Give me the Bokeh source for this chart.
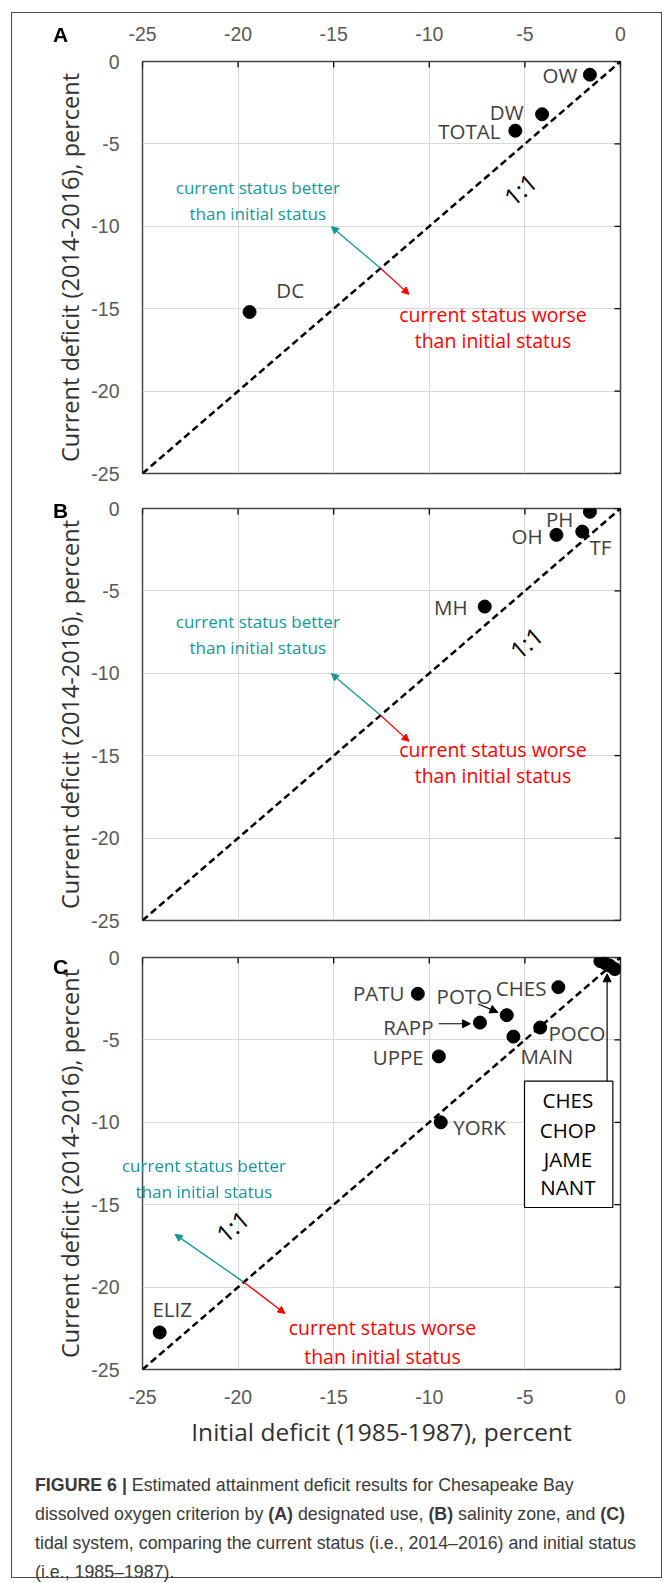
from bokeh.plotting import figure
from bokeh.models import (Range1d, FixedTicker, Label, Arrow, NormalHead, Div)
from bokeh.layouts import column
from bokeh.embed import file_html
from bokeh.resources import INLINE

# ---------------- data ----------------
tick_values = [-25, -20, -15, -10, -5, 0]
tick_labels = ["-25", "-20", "-15", "-10", "-5", "0"]
one_to_one = [-25, 0]

# Panel A: designated use
a_names = ["OW", "DW", "TOTAL", "DC"]
a_initial = [-1.6, -4.1, -5.5, -19.4]
a_current = [-0.8, -3.2, -4.2, -15.2]

# Panel B: salinity zone
b_names = ["PH", "TF", "OH", "MH"]
b_initial = [-1.6, -2.0, -3.35, -7.1]
b_current = [-0.2, -1.4, -1.6, -5.95]

# Panel C: tidal system
c_names = ["PATU", "POTO", "CHES", "RAPP", "POCO", "MAIN", "UPPE", "YORK", "ELIZ",
           "CHES", "CHOP", "JAME", "NANT"]
c_initial = [-10.6, -5.95, -3.25, -7.35, -4.2, -5.6, -9.5, -9.4, -24.1,
             -1.05, -0.8, -0.55, -0.3]
c_current = [-2.2, -3.5, -1.8, -3.95, -4.25, -4.8, -6.0, -10.0, -22.75,
             -0.22, -0.35, -0.5, -0.7]

# label anchors (text, x, y, align) for point names
a_lab = [("OW", -2.25, -0.8, "right"), ("DW", -5.07, -3.08, "right"),
         ("TOTAL", -6.28, -4.19, "right"), ("DC", -18.0, -13.85, "left")]
b_lab = [("PH", -2.46, -0.61, "right"), ("TF", -1.62, -2.31, "left"),
         ("OH", -4.08, -1.64, "right"), ("MH", -8.0, -6.0, "right")]
c_lab = [("PATU", -11.3, -2.17, "right"), ("POTO", -9.62, -2.31, "left"),
         ("CHES", -3.87, -1.86, "right"), ("RAPP", -9.78, -4.23, "right"),
         ("POCO", -3.77, -4.59, "left"), ("MAIN", -5.23, -5.95, "left"),
         ("UPPE", -10.29, -6.05, "right"), ("YORK", -8.75, -10.3, "left"),
         ("ELIZ", -24.48, -21.3, "left")]

# small-system box in panel C
box_names = ["CHES", "CHOP", "JAME", "NANT"]
box_left, box_right, box_top, box_bottom = [-5.02], [-0.4], [-7.5], [-15.17]
box_text_x = -2.75
box_text_y = [-8.66, -10.48, -12.2, -13.94]

better_lines = ["current status better", "than initial status"]
worse_lines = ["current status worse", "than initial status"]

TEAL = "#12989a"
RED = "#ff0000"
TICK_FONT = "Liberation Sans"
TXT_FONT = "Open Sans"

FRAME_W, FRAME_H = 478, 412
TICK_PX = 6
span = tick_values[-1] - tick_values[0]
tick_dx = TICK_PX * span / FRAME_W
tick_dy = TICK_PX * span / FRAME_H

panel_cfg = {
    "A": dict(names=a_names, x=a_initial, y=a_current, labels=a_lab,
              better=(-18.97, [-7.63, -9.22]), worse=(-6.67, [-15.35, -16.94]),
              ratio=(-5.25, -7.75), base=(-12.55, -12.55), tip_b=(-15.12, -10.02),
              tip_w=(-11.06, -14.13), top=61, bottom=17),
    "B": dict(names=b_names, x=b_initial, y=b_current, labels=b_lab,
              better=(-18.97, [-6.85, -8.44]), worse=(-6.67, [-14.6, -16.2]),
              ratio=(-4.94, -8.14), base=(-12.55, -12.55), tip_b=(-15.12, -10.02),
              tip_w=(-11.06, -14.13), top=18, bottom=19),
    "C": dict(names=c_names, x=c_initial, y=c_current, labels=c_lab,
              better=None, worse=(-12.45, [-22.45, -24.2]),
              ratio=(-20.3, -16.3), base=(-19.7, -19.7), tip_b=(-23.3, -16.8),
              tip_w=(-17.55, -21.6), top=18, bottom=86),
}


def make_panel(key):
    cfg = panel_cfg[key]
    p = figure(x_range=Range1d(-25, 0), y_range=Range1d(-25, 0),
               frame_width=FRAME_W, frame_height=FRAME_H,
               min_border_left=142, min_border_right=44,
               min_border_top=cfg["top"], min_border_bottom=cfg["bottom"],
               x_axis_location=("above" if key == "A" else ("below" if key == "C" else None)),
               y_axis_location="left",
               toolbar_location=None, output_backend="svg",
               background_fill_color="white", border_fill_color="white")
    p.outline_line_color = "#454545"
    p.outline_line_width = 1.5

    ticker = FixedTicker(ticks=tick_values)
    overrides = dict(zip(tick_values, tick_labels))

    if key in ("A", "C"):
        xa = p.xaxis[0]
        xa.ticker = ticker
        xa.major_label_overrides = overrides
        xa.axis_line_color = None
        xa.major_tick_line_color = None
        xa.minor_tick_line_color = None
        xa.major_label_text_font = TICK_FONT
        xa.major_label_text_font_size = "19.5px"
        xa.major_label_text_color = "#595959"
        xa.major_label_standoff = 15 if key == "A" else 14
        if key == "C":
            xa.axis_label = "Initial deficit (1985-1987), percent"
            xa.axis_label_text_font = TXT_FONT
            xa.axis_label_text_font_size = "24.5px"
            xa.axis_label_text_font_style = "normal"
            xa.axis_label_text_color = "#303030"
            xa.axis_label_standoff = 8

    ya = p.yaxis[0]
    ya.ticker = ticker
    ya.major_label_overrides = overrides
    ya.axis_line_color = None
    ya.major_tick_line_color = None
    ya.minor_tick_line_color = None
    ya.major_label_text_font = TICK_FONT
    ya.major_label_text_font_size = "19.5px"
    ya.major_label_text_color = "#595959"
    ya.major_label_standoff = 17
    ya.axis_label = "Current deficit (2014-2016), percent"
    ya.axis_label_text_font = TXT_FONT
    ya.axis_label_text_font_size = "23.5px"
    ya.axis_label_text_font_style = "normal"
    ya.axis_label_text_color = "#303030"
    ya.axis_label_standoff = 2

    p.xgrid.ticker = ticker
    p.ygrid.ticker = ticker
    p.xgrid.grid_line_color = "#d9d9d9"
    p.ygrid.grid_line_color = "#d9d9d9"

    # inward ticks of the x axis (at y = 0, top) and y axis (at x = 0, right)
    n = len(tick_values)
    p.segment(x0=tick_values, y0=[0] * n, x1=tick_values, y1=[-tick_dy] * n,
              line_color="black", line_width=1.3)
    p.segment(x0=[0] * n, y0=tick_values, x1=[-tick_dx] * n, y1=tick_values,
              line_color="black", line_width=1.3)

    # 1:1 line
    p.line(x=one_to_one, y=one_to_one, line_color="black", line_width=2.5,
           line_dash="7 4")

    if key == "C":
        p.quad(left=box_left, right=box_right, top=box_top, bottom=box_bottom,
               fill_color="white", line_color="black", line_width=1.2)
        for nm, ty in zip(box_names, box_text_y):
            p.add_layout(Label(x=box_text_x, y=ty, text=nm, text_align="center",
                               text_baseline="middle", text_font=TXT_FONT,
                               text_font_size="20.5px", text_color="black"))
        for xs, ys, xe, ye in [(-0.7, box_top[0], -0.7, -0.99),
                               (-7.44, -2.82, -6.41, -3.33),
                               (-9.51, -4.02, -7.85, -4.02)]:
            p.add_layout(Arrow(x_start=xs, y_start=ys, x_end=xe, y_end=ye,
                               line_color="black", line_width=1.2,
                               end=NormalHead(size=8, fill_color="black",
                                              line_color="black")))

    # points
    p.scatter(x=cfg["x"], y=cfg["y"], size=13, color="black")

    for txt, lx, ly, al in cfg["labels"]:
        p.add_layout(Label(x=lx, y=ly, text=txt, text_align=al,
                           text_baseline="middle", text_font=TXT_FONT,
                           text_font_size="20.5px", text_color="#404040"))

    if cfg["better"] is not None:
        bx, bys = cfg["better"]
        for line, ly in zip(better_lines, bys):
            p.add_layout(Label(x=bx, y=ly, text=line, text_align="center",
                               text_baseline="middle", text_font=TXT_FONT,
                               text_font_size="17px", text_color=TEAL))
    wx, wys = cfg["worse"]
    for line, ly in zip(worse_lines, wys):
        p.add_layout(Label(x=wx, y=ly, text=line, text_align="center",
                           text_baseline="middle", text_font=TXT_FONT,
                           text_font_size="19.5px", text_color=RED))
    bxs, bys0 = cfg["base"]
    p.add_layout(Arrow(x_start=bxs, y_start=bys0, x_end=cfg["tip_b"][0],
                       y_end=cfg["tip_b"][1], line_color=TEAL, line_width=1.3,
                       end=NormalHead(size=7, fill_color=TEAL, line_color=TEAL)))
    p.add_layout(Arrow(x_start=bxs, y_start=bys0, x_end=cfg["tip_w"][0],
                       y_end=cfg["tip_w"][1], line_color=RED, line_width=1.3,
                       end=NormalHead(size=7, fill_color=RED, line_color=RED)))

    rx, ry = cfg["ratio"]
    p.add_layout(Label(x=rx, y=ry, text="1:1", text_align="center",
                       text_baseline="middle", text_font=TXT_FONT,
                       text_font_size="24px", text_color="black", angle=0.7114))
    return p


pA = make_panel("A")
pB = make_panel("B")
pC = make_panel("C")

# overlays that lie outside the plot frames: figure border, panel letters and
# the panel-C "better" note that runs over the left edge of the frame
letter_style = ("position:fixed;left:53px;font-family:'Liberation Sans',Arial,sans-serif;"
                "font-weight:bold;font-size:21px;line-height:21px;color:#000;")
overlay = (
    '<div style="position:fixed;left:11px;top:12px;width:651px;height:1566px;'
    'border:1.5px solid #4a4a4a;box-sizing:border-box;pointer-events:none;"></div>'
    f'<div style="{letter_style}top:24px;">A</div>'
    f'<div style="{letter_style}top:500px;">B</div>'
    f'<div style="{letter_style}top:956px;">C</div>'
    '<div style="position:fixed;left:104px;top:1153px;width:200px;text-align:center;'
    f"font-family:'Open Sans',sans-serif;font-size:17px;line-height:26px;color:{TEAL};"
    f'white-space:nowrap;">{better_lines[0]}<br>{better_lines[1]}</div>'
)
caption_html = (
    overlay +
    '<div style="font-family:\'Liberation Sans Narrow\',\'Liberation Sans\',sans-serif;'
    'font-size:17.8px;line-height:29px;color:#3a3a3a;white-space:nowrap;'
    'padding-left:30px;padding-top:11px;box-sizing:border-box;height:128px;">'
    '<b>FIGURE 6 |</b> Estimated attainment deficit results for Chesapeake Bay<br>'
    'dissolved oxygen criterion by <b>(A)</b> designated use, <b>(B)</b> salinity zone, and <b>(C)</b><br>'
    'tidal system, comparing the current status (i.e., 2014–2016) and initial status<br>'
    '(i.e., 1985–1987).</div>'
)
cap = Div(text=caption_html, width=664, height=128)

layout = column(pA, pB, pC, cap, spacing=0)
open("out.html", "w").write(file_html(layout, INLINE))
